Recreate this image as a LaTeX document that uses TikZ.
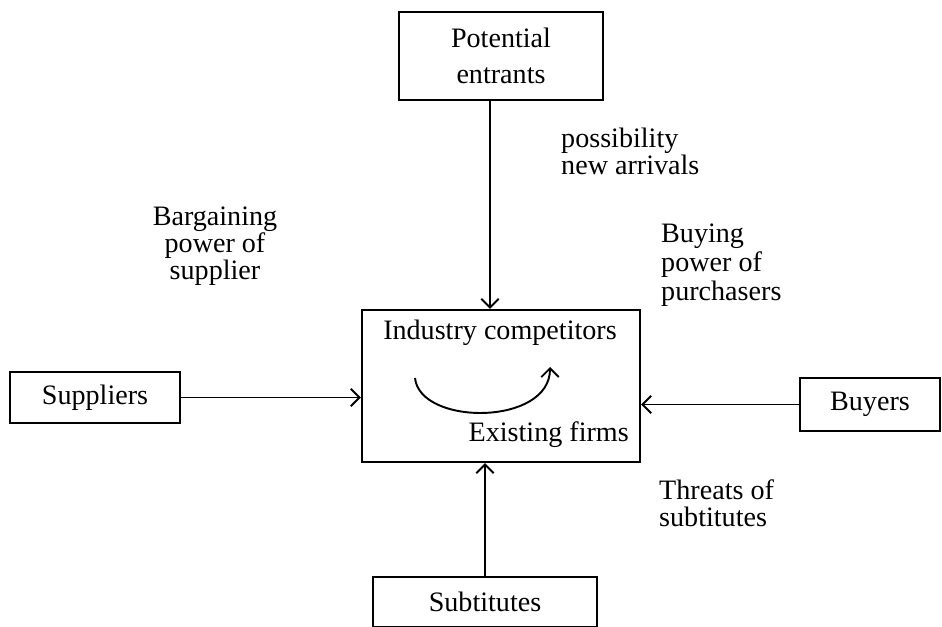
\documentclass[tikz,border=0pt]{standalone}
\usepackage{fontspec}
\setmainfont{Liberation Serif}
\usetikzlibrary{arrows.meta}

\begin{document}
\begin{tikzpicture}[font=\fontsize{16}{15.5}\selectfont,
  box/.style={draw, line width=1.2pt, inner sep=0pt, align=center},
  force/.style={-{Straight Barb[length=5pt,width=10pt]}, line width=1.1pt}]

\useasboundingbox (0,0) rectangle (18.84,12.52);
\clip (0,0) rectangle (18.84,12.52);

%% boxes
\node[box, minimum width=4.08cm, minimum height=1.76cm] at (10.02,11.40) (entrants) {Potential\\[5pt]entrants};
\node[box, minimum width=5.56cm, minimum height=3.04cm] at (10.02,4.80) (firms) {};
\node[box, minimum width=3.40cm, minimum height=1.02cm] at (1.90,4.57) (suppliers) {Suppliers};
\node[box, minimum width=2.80cm, minimum height=1.06cm] at (17.40,4.43) (buyers) {Buyers};
\node[box, minimum width=4.48cm, minimum height=1.00cm] at (9.70,0.48) (subst) {Subtitutes};

%% inside the centre box
\node at (10.00,5.86) (industry) {Industry competitors};
\node[anchor=east] at (12.70,3.82) (existing) {Existing firms};

%% forces
\draw[force] ([xshift=-0.22cm]entrants.south) -- ([xshift=-0.22cm]firms.north);
\draw[force] (suppliers.east) -- (suppliers.east -| firms.west);
\draw[force] (buyers.west) -- (buyers.west -| firms.east);
\draw[force] (subst.north) -- (subst.north |- firms.south);
\draw[force] (8.30,4.96) .. controls (8.40,4.00) and (11.00,4.00) .. (11.00,5.18);

%% labels
\node[anchor=west, align=left] at (11.10,9.49) (arrivals) {possibility\\new arrivals};
\node[align=center] at (4.30,7.60) (bargain) {Bargaining\\power of\\supplier};
\node[anchor=west, align=left] at (13.10,7.22) (buying) {Buying\\[1pt]power of\\[1pt]purchasers};
\node[anchor=west, align=left] at (13.06,2.46) (threats) {Threats of\\subtitutes};

\end{tikzpicture}
\end{document}
